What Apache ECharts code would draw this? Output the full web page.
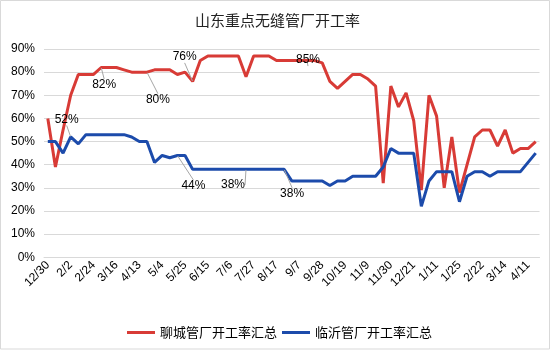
<!DOCTYPE html>
<html>
<head>
<meta charset="utf-8">
<script src="https://cdn.jsdelivr.net/npm/echarts@6/dist/echarts.min.js"></script>
<style>
html,body{margin:0;padding:0;background:#fff;}
#chart{width:555px;height:351px;}
</style>
</head>
<body>
<div id="chart"></div>
<script>
var titleText = '山东重点无缝管厂开工率';
var seriesNames = ['聊城管厂开工率汇总', '临沂管厂开工率汇总'];
var categories = ['12/30','1/6','1/13','2/2','2/9','2/16','2/24','3/2','3/9','3/16','3/23','3/30','4/13','4/20','4/27','5/4','5/11','5/18','5/25','6/1','6/8','6/15','6/22','6/29','7/6','7/13','7/20','7/27','8/3','8/10','8/17','8/24','8/31','9/7','9/14','9/21','9/28','10/5','10/12','10/19','10/26','11/2','11/9','11/16','11/23','11/30','12/7','12/14','12/21','12/28','1/4','1/11','1/16','1/20','1/25','2/1','2/15','2/22','3/1','3/7','3/14','3/21','3/28','4/11','4/18'];
var liaocheng = [60,39,55,70,79,79,79,82,82,82,81,80,80,80,81,81,81,79,80,76,85,87,87,87,87,87,78,87,87,87,85,85,85,85,85,85,84,76,73,76,79,79,77,74,32,74,65,71,59,29,70,61,30,52,28,40,52,55,55,48,55,45,47,47,50];
var linyi = [50,50,45,52,49,53,53,53,53,53,53,52,50,50,41,44,43,44,44,38,38,38,38,38,38,38,38,38,38,38,38,38,33,33,33,33,33,31,33,33,35,35,35,35,39,47,45,45,45,22,33,37,37,37,24,35,37,37,35,37,37,37,37,41,45];
var yTicks = [0,10,20,30,40,50,60,70,80,90];
var liaochengLabelIdx = [7,13,19,34];
var linyiLabelIdx = [3,17,26,31];

// label offsets (layout only)
var labelOffsets = {
  '0_7': [3, 29], '0_13': [11, 39], '0_19': [-8, -13], '0_34': [1, 11],
  '1_3': [-4, -6], '1_17': [16, 42], '1_26': [-13, 27], '1_31': [8, 36]
};

function buildData(values, labelIdx) {
  return values.map(function (v, i) {
    if (labelIdx.indexOf(i) >= 0) {
      return { value: v, symbol: 'circle', symbolSize: 1, label: { show: true } };
    }
    return v;
  });
}

var colors = ['#d83b36', '#1c4bab'];
var fontFam = '"Liberation Sans", Arial, "Noto Sans CJK SC", sans-serif';

var chart = echarts.init(document.getElementById('chart'), null, { renderer: 'canvas' });
var seriesCommon = function (name, data, color) {
  return {
    name: name,
    type: 'line',
    data: data,
    symbol: 'none',
    showSymbol: true,
    showAllSymbol: true,
    smooth: false,
    lineStyle: { color: color, width: 3 },
    itemStyle: { color: color },
    label: { show: false, position: 'top', formatter: '{c}%', fontSize: 12, color: '#000', fontFamily: fontFam },
    labelLine: { show: true, lineStyle: { color: '#a6a6a6', width: 1 } },
    labelLayout: function (p) {
      var o = labelOffsets[p.seriesIndex + '_' + p.dataIndex];
      if (!o) return {};
      return { dx: o[0], dy: o[1] };
    },
    emphasis: { disabled: true },
    animation: false
  };
};

chart.setOption({
  animation: false,
  backgroundColor: '#fff',
  textStyle: { fontFamily: fontFam },
  title: {
    text: titleText,
    left: 'center',
    top: 8,
    textStyle: { fontSize: 15, fontWeight: 'normal', color: '#222', fontFamily: '"Noto Sans CJK SC", sans-serif' }
  },
  graphic: [{
    type: 'rect',
    shape: { x: 0.5, y: 0.5, width: 549, height: 348.5 },
    style: { fill: 'none', stroke: '#d9d9d9', lineWidth: 1 },
    silent: true
  }],
  legend: {
    left: 122,
    top: 321,
    itemWidth: 28,
    itemHeight: 3,
    itemGap: 5,
    icon: 'rect',
    textStyle: { fontSize: 13, color: '#000', fontFamily: '"Noto Sans CJK SC", sans-serif', padding: [0, 0, 0, 0] },
    data: seriesNames
  },
  grid: { left: 44, right: 15.5, top: 49, bottom: 351 - 257.3, containLabel: false },
  xAxis: {
    type: 'category',
    data: categories,
    boundaryGap: true,
    axisLine: { show: true, lineStyle: { color: '#d9d9d9', width: 1 } },
    axisTick: { show: false },
    axisLabel: { interval: 2, rotate: 45, fontSize: 12, color: '#000', margin: 6, fontFamily: fontFam }
  },
  yAxis: {
    type: 'value',
    min: yTicks[0],
    max: yTicks[yTicks.length - 1],
    interval: 10,
    axisLine: { show: false },
    axisTick: { show: false },
    splitLine: { lineStyle: { color: '#d9d9d9', width: 1 } },
    axisLabel: { formatter: '{value}%', fontSize: 12, color: '#000', margin: 9, fontFamily: fontFam }
  },
  series: [
    seriesCommon(seriesNames[0], buildData(liaocheng, liaochengLabelIdx), colors[0]),
    seriesCommon(seriesNames[1], buildData(linyi, linyiLabelIdx), colors[1])
  ]
});
</script>
</body>
</html>
